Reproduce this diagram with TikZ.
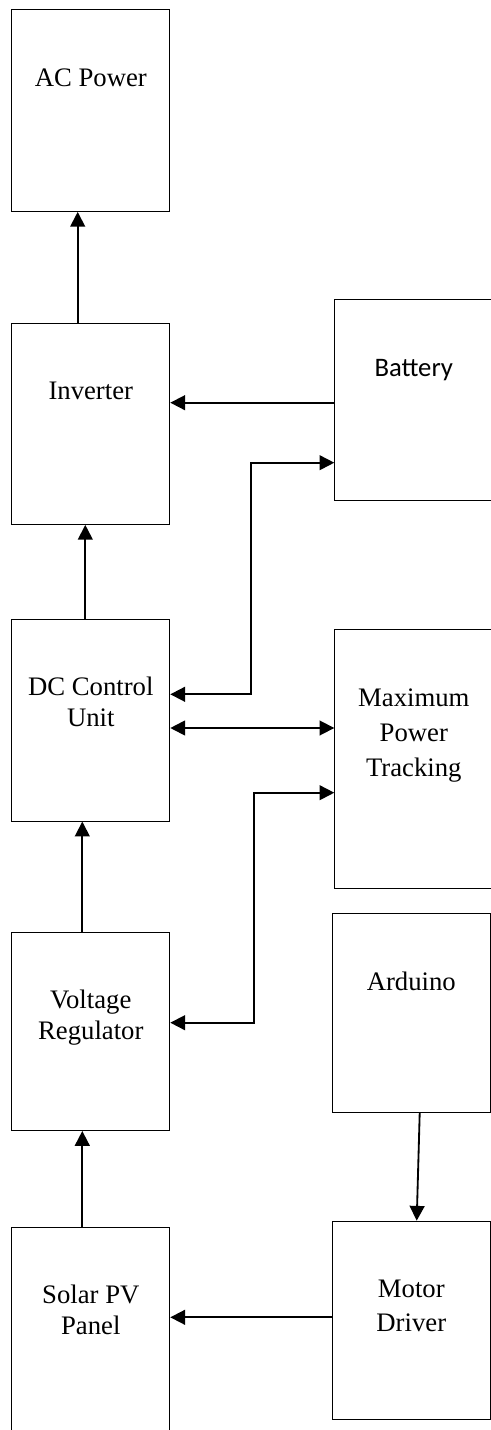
\documentclass[tikz,border=0pt]{standalone}
\usepackage{fontspec}
\setmainfont{Liberation Serif}
\newfontfamily\calibrifont{Carlito}
\usetikzlibrary{arrows.meta,positioning}

\begin{document}
\begin{tikzpicture}[x=0.25mm,y=-0.25mm,
  blk/.style={draw,line width=0.7pt,anchor=north west,inner sep=0pt,minimum width=39.5mm},
  lbl/.style={anchor=base,yshift=-#1,align=center,font=\fontsize{19}{22}\selectfont},
  lbl/.default=19.2mm,
  arr/.style={line width=1.3pt,-{Triangle[length=3.7mm,width=3.7mm]}},
  biarr/.style={line width=1.3pt,{Triangle[length=3.7mm,width=3.7mm]}-{Triangle[length=3.7mm,width=3.7mm]}}]
  \useasboundingbox (0,0) rectangle (490,1430);
  \node[blk,minimum height=50.4mm] (ac) at (11.3,9.3) {};
  \node[blk,minimum height=50.3mm] (inv) at (11.3,322.7) {};
  \node[blk,minimum height=50.4mm] (dc) at (11.3,619) {};
  \node[blk,minimum height=49.5mm] (vr) at (11.3,932) {};
  \node[blk,minimum height=53.8mm] (sol) at (11.3,1227.3) {};
  \node[blk,minimum height=50.25mm] (bat) at (334.3,299.3) {};
  \node[blk,minimum height=64.6mm] (mpt) at (334.3,629.3) {};
  \node[blk,minimum height=49.7mm,minimum width=39.4mm] (ard) at (332,913.3) {};
  \node[blk,minimum height=49.65mm,minimum width=39.4mm] (md) at (332,1220.7) {};
  \node[lbl] (ac-t) at (ac.north) {AC Power};
  \node[lbl] (inv-t) at (inv.north) {Inverter};
  \node[lbl=26.9mm] (dc-t) at (dc.north) {DC Control\\Unit};
  \node[lbl=26.9mm] (vr-t) at (vr.north) {Voltage\\Regulator};
  \node[lbl=26.9mm] (sol-t) at (sol.north) {Solar PV\\Panel};
  \node[lbl,font=\calibrifont\fontsize{19}{22}\selectfont] (bat-t) at (bat.north) {Battery};
  \node[lbl=36.8mm,font=\fontsize{19}{25}\selectfont] (mpt-t) at (mpt.north) {Maximum\\Power\\Tracking};
  \node[lbl] (ard-t) at (ard.north) {Arduino};
  \node[lbl=27.6mm,font=\fontsize{19}{24}\selectfont] (md-t) at (md.north) {Motor\\Driver};
  \draw[arr] (77.7,0 |- inv.north) -- (77.7,0 |- ac.south);
  \draw[arr] (85.3,0 |- dc.north) -- (85.3,0 |- inv.south);
  \draw[arr] (82.3,0 |- vr.north) -- (82.3,0 |- dc.south);
  \draw[arr] (82.3,0 |- sol.north) -- (82.3,0 |- vr.south);
  \draw[arr] (bat.west |- 0,402.7) -- (inv.east |- 0,402.7);
  \draw[biarr] (dc.east |- 0,694.3) -| (251.3,462.7) -- (bat.west |- 0,462.7);
  \draw[biarr] (dc.east |- 0,728) -- (mpt.west |- 0,728);
  \draw[biarr] (vr.east |- 0,1022.7) -| (253.7,792.7) -- (mpt.west |- 0,792.7);
  \draw[arr] (419.7,0 |- ard.south) -- (416.7,0 |- md.north);
  \draw[arr] (md.west |- 0,1317.3) -- (sol.east |- 0,1317.3);
\end{tikzpicture}
\end{document}
